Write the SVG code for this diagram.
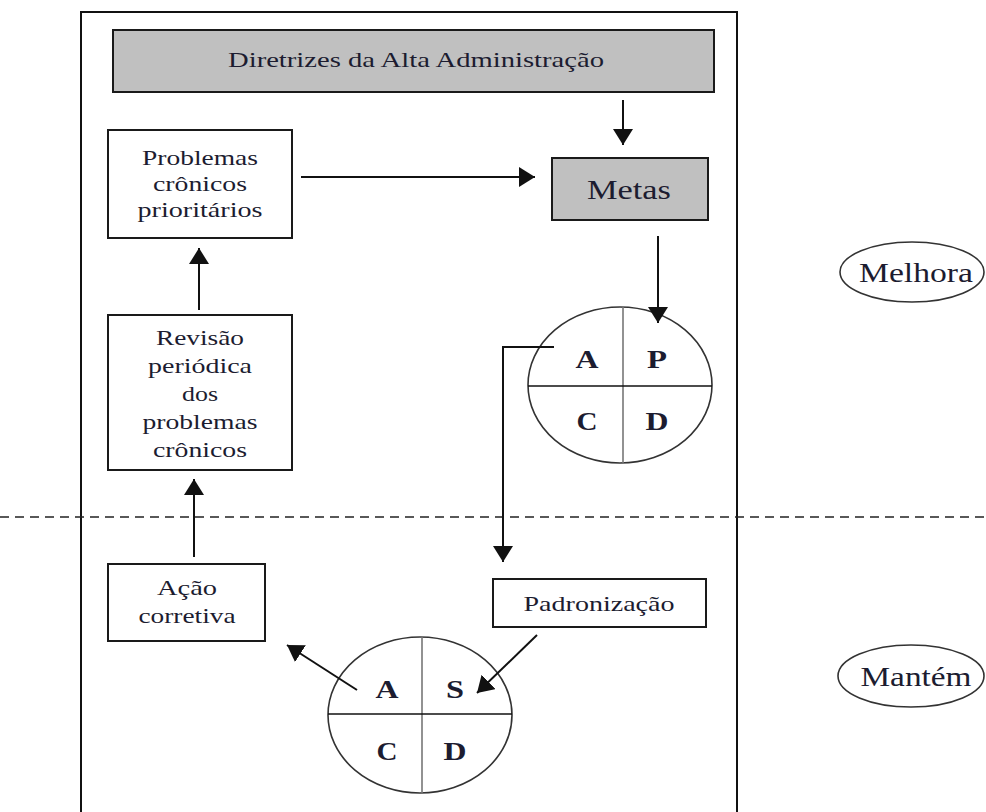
<svg xmlns="http://www.w3.org/2000/svg" width="986" height="812" viewBox="0 0 986 812">
<style>
.box{fill:#fff;stroke:#1a1a1a;stroke-width:2}
.gray{fill:#c0c0c0;stroke:#1a1a1a;stroke-width:2}
.t{font-family:"Liberation Serif","Times New Roman",serif;fill:#1c1c30;text-anchor:middle}
.s17{font-size:22px}
.big{font-size:27px}
.let{font-size:26px;font-weight:bold}
.pd{fill:#fff;stroke:#333;stroke-width:1.6}
.ln{fill:none;stroke:#111;stroke-width:2}
.conn line,.conn polyline{fill:none;stroke:#111;stroke-width:2}
</style>
<defs>
<marker id="ah" markerUnits="userSpaceOnUse" markerWidth="18" markerHeight="20" refX="16" refY="10" orient="auto">
<path d="M0,0 L16,10 L0,20 z" fill="#111"/>
</marker>
</defs>
<rect width="986" height="812" fill="#fff"/>
<g id="frame"><polyline points="81,820 81,12 737,12 737,820" class="ln"/></g>
<g id="divider"><line x1="0" y1="517" x2="986" y2="517" stroke="#222" stroke-width="1.6" stroke-dasharray="9,6"/></g>

<g id="diretrizes">
<rect x="113" y="30" width="601" height="62" class="gray"/>
<text x="416" y="67" class="t s17" textLength="376" lengthAdjust="spacingAndGlyphs">Diretrizes da Alta Administração</text>
</g>
<g id="metas">
<rect x="552" y="158" width="156" height="62" class="gray"/>
<text x="629" y="199" class="t big" textLength="84" lengthAdjust="spacingAndGlyphs">Metas</text>
</g>
<g id="problemas">
<rect x="108" y="130" width="184" height="108" class="box"/>
<text x="200" y="165" class="t s17" textLength="116" lengthAdjust="spacingAndGlyphs">Problemas</text>
<text x="200" y="191" class="t s17" textLength="94" lengthAdjust="spacingAndGlyphs">crônicos</text>
<text x="200" y="217" class="t s17" textLength="125" lengthAdjust="spacingAndGlyphs">prioritários</text>
</g>
<g id="revisao">
<rect x="108" y="315" width="184" height="155" class="box"/>
<text x="200" y="345" class="t s17" textLength="88" lengthAdjust="spacingAndGlyphs">Revisão</text>
<text x="200" y="373" class="t s17" textLength="104" lengthAdjust="spacingAndGlyphs">periódica</text>
<text x="200" y="401" class="t s17" textLength="36" lengthAdjust="spacingAndGlyphs">dos</text>
<text x="200" y="429" class="t s17" textLength="115" lengthAdjust="spacingAndGlyphs">problemas</text>
<text x="200" y="457" class="t s17" textLength="94" lengthAdjust="spacingAndGlyphs">crônicos</text>
</g>
<g id="acao">
<rect x="108" y="564" width="157" height="77" class="box"/>
<text x="187" y="595" class="t s17" textLength="60" lengthAdjust="spacingAndGlyphs">Ação</text>
<text x="187" y="623" class="t s17" textLength="97" lengthAdjust="spacingAndGlyphs">corretiva</text>
</g>
<g id="padronizacao">
<rect x="493" y="579" width="213" height="48" class="box"/>
<text x="599" y="611" class="t s17" textLength="151" lengthAdjust="spacingAndGlyphs">Padronização</text>
</g>
<g id="pdca">
<ellipse cx="620" cy="385" rx="92" ry="78" class="pd"/>
<line x1="623" y1="307" x2="623" y2="463" stroke="#777" stroke-width="1.6"/>
<line x1="528" y1="386" x2="712" y2="386" stroke="#111" stroke-width="1.6"/>
<text x="587" y="368" class="t let" textLength="23" lengthAdjust="spacingAndGlyphs">A</text>
<text x="657" y="368" class="t let" textLength="20" lengthAdjust="spacingAndGlyphs">P</text>
<text x="587" y="430" class="t let" textLength="21" lengthAdjust="spacingAndGlyphs">C</text>
<text x="657" y="430" class="t let" textLength="23" lengthAdjust="spacingAndGlyphs">D</text>
</g>
<g id="sdca">
<ellipse cx="420" cy="715" rx="92" ry="78" class="pd"/>
<line x1="422" y1="637" x2="422" y2="793" stroke="#777" stroke-width="1.6"/>
<line x1="328" y1="714" x2="512" y2="714" stroke="#111" stroke-width="1.6"/>
<text x="387" y="698" class="t let" textLength="23" lengthAdjust="spacingAndGlyphs">A</text>
<text x="455" y="698" class="t let" textLength="18" lengthAdjust="spacingAndGlyphs">S</text>
<text x="387" y="760" class="t let" textLength="21" lengthAdjust="spacingAndGlyphs">C</text>
<text x="455" y="760" class="t let" textLength="23" lengthAdjust="spacingAndGlyphs">D</text>
</g>
<g id="melhora">
<ellipse cx="912" cy="272" rx="72" ry="30" class="pd"/>
<text x="916" y="282" class="t big" textLength="114" lengthAdjust="spacingAndGlyphs">Melhora</text>
</g>
<g id="mantem">
<ellipse cx="911" cy="676" rx="73" ry="31" class="pd"/>
<text x="916" y="686" class="t big" textLength="111" lengthAdjust="spacingAndGlyphs">Mantém</text>
</g>

<g id="connectors" class="conn">
<line x1="623" y1="100" x2="623" y2="145" marker-end="url(#ah)"/>
<line x1="301" y1="177" x2="535" y2="177" marker-end="url(#ah)"/>
<line x1="658" y1="236" x2="658" y2="323" marker-end="url(#ah)"/>
<line x1="199" y1="310" x2="199" y2="248" marker-end="url(#ah)"/>
<line x1="194" y1="557" x2="194" y2="479" marker-end="url(#ah)"/>
<polyline points="554,347 503,347 503,562" marker-end="url(#ah)"/>
<line x1="357" y1="690" x2="287" y2="645" marker-end="url(#ah)"/>
<line x1="537" y1="635" x2="477" y2="693" marker-end="url(#ah)"/>
</g>
</svg>
